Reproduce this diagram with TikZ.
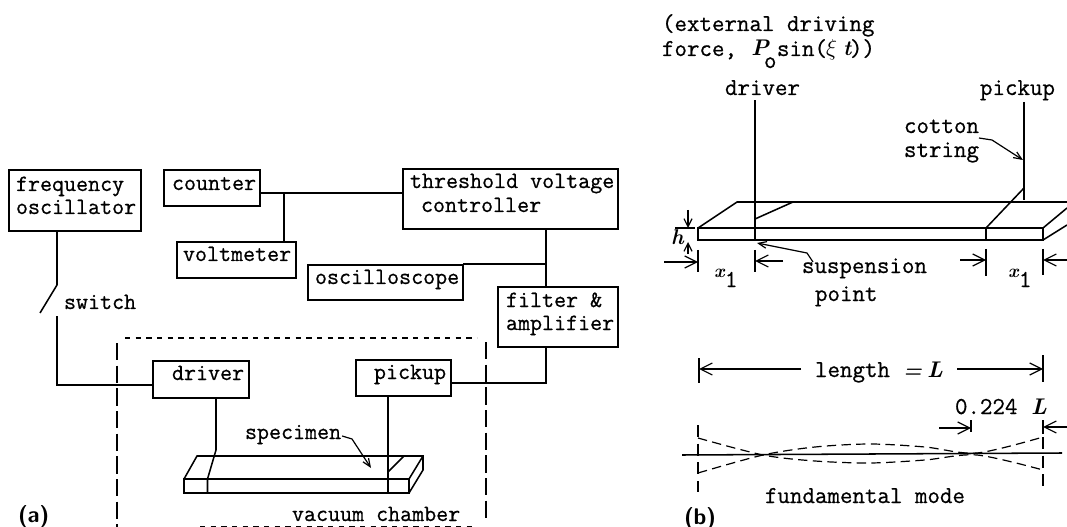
\documentclass[tikz,border=0pt]{standalone}
\usepackage{fontspec}
\usetikzlibrary{arrows.meta}
\newfontfamily\tw{Latin Modern Mono}[FakeBold=0.7]
\tikzset{
  x=0.75pt,y=-0.75pt,
  bx/.style={draw,inner sep=0,outer sep=0},
  tx/.style={anchor=base west,inner sep=0,outer sep=0,font=\tw\fontsize{17.5}{20}\selectfont},
  txr/.style={anchor=base west,inner sep=0,outer sep=0,font=\tw\fontsize{18.2}{20}\selectfont},
  sym/.style={anchor=base west,inner sep=0,outer sep=0,font=\fontsize{16}{20}\selectfont\bfseries\itshape},
  symb/.style={anchor=base west,inner sep=0,outer sep=0,font=\fontsize{17}{20}\selectfont\bfseries\itshape},
  tag/.style={anchor=base west,inner sep=0,outer sep=0,font=\fontsize{17}{20}\selectfont\bfseries\sffamily},
  bar/.style={-{Straight Barb[length=9pt,width=9pt,line width=0.9pt]},line width=0.9pt},
  barsmall/.style={-{Straight Barb[length=6pt,width=6pt,line width=0.9pt]},line width=0.9pt},
  leader/.style={line width=0.9pt,-{Straight Barb[length=6pt,width=5pt,line width=0.9pt]}},
  shortdash/.style={dash pattern=on 4pt off 4pt},
  longdash/.style={dash pattern=on 13pt off 4pt},
  wave/.style={line width=0.9pt,dash pattern=on 7pt off 4pt},
}
\newcommand\bxn[5]{\node[bx,minimum width={(#4-#2)*0.75pt},minimum height={(#5-#3)*0.75pt}] (#1) at ({(#2+#4)/2},{(#3+#5)/2}) {};}
\begin{document}
\begin{tikzpicture}[line width=1.15pt]
\useasboundingbox (0,0) rectangle (1067,527);
% (a) boxes
\bxn{osc}{9}{170}{141}{231}
\bxn{counter}{164}{170}{260}{206}
\bxn{thresh}{403}{169}{618}{229}
\bxn{volt}{177}{242}{296}{278}
\bxn{scope}{308}{265}{463}{300}
\bxn{filter}{498}{287}{618}{347}
\bxn{drv}{153}{361}{249}{398}
\bxn{pck}{356}{360}{451}{396}
% (a) texts
\node[tx] (t1) at (16,191) {frequency};
\node[tx] (t2) at (16,214) {oscillator};
\node[tx] (t3) at (172,190) {counter};
\node[tx] (t4) at (410,188) {threshold voltage};
\node[tx] (t5) at (421,212) {controller};
\node[tx] (t6) at (183,261) {voltmeter};
\node[tx] (t7) at (315,284) {oscilloscope};
\node[tx] (t8) at (64,309) {switch};
\node[tx] (t9) at (506,307) {filter \&};
\node[tx] (t10) at (506,330) {amplifier};
\node[tx] (t11) at (172,380) {driver};
\node[tx] (t12) at (374,379) {pickup};
\node[tx] (t13) at (245,439) {specimen};
\node[tx] (t14) at (292,521) {vacuum chamber};
\node[tag] (ta) at (18,522) {(a)};
% (a) connectors
\coordinate (j1) at (284,193);
\draw (counter.east |- j1) -- (j1) -- (thresh.west |- j1);
\draw (j1) -- (volt.north -| j1);
\coordinate (j2) at (546,264);
\draw (thresh.south -| j2) -- (j2) -- (filter.north -| j2);
\draw (j2) -- (scope.north east |- j2);
\coordinate (s1) at (57,285);
\coordinate (s2) at (40,313);
\coordinate (s3) at (57,316);
\coordinate (s4) at (57,385);
\draw (osc.south -| s1) -- (s1) -- (s2);
\draw (s3) -- (s4) -- (drv.west |- s4);
\coordinate (p1) at (546,383);
\draw (pck.east |- p1) -- (p1) -- (filter.south -| p1);
% chamber
\coordinate (c1) at (125,338); \coordinate (c2) at (477,338);
\coordinate (c3) at (117,343); \coordinate (c4) at (117,527);
\coordinate (c5) at (486,342); \coordinate (c6) at (486,523);
\coordinate (c7) at (200,526); \coordinate (c8) at (477,526);
\draw[shortdash,line width=0.9pt] (c1) -- (c2);
\draw[shortdash,line width=0.6pt] (c7) -- (c8);
\draw[longdash] (c3) -- (c4);
\draw[longdash] (c5) -- (c6);
% specimen
\draw (184,479) rectangle (409,493);
\draw (184,479) -- (197,456) -- (423,456) -- (423,470) -- (409,493);
\draw (409,479) -- (423,456);
\coordinate (d1) at (216,450);
\draw (drv.south -| d1) -- (d1) -- (207.5,479) -- (207.5,493);
\coordinate (d2) at (388,493);
\draw (pck.south -| d2) -- (d2);
\draw (388,472) -- (404,456);
\draw[leader] (t13.base east) ++(1,-3) -- (352,439) -- (371,468);
% (b) texts
\node[txr] (r1) at (662,31) {(external driving};
\node[txr] (r2) at (662,56) {force,};
\node[symb] (r3) at (751,56) {P};
\node[txr] (r4) at (764,68) {o};
\node[txr] (r5) at (777,56) {sin(};
\node[sym] (r6) at (826,56) {$\xi$};
\node[sym] (r7) at (843,56) {t};
\node[txr] (r8) at (850,56) {))};
\node[txr] (r9) at (725,95) {driver};
\node[txr] (r10) at (980,95) {pickup};
\node[txr] (r11) at (904,133) {cotton};
\node[txr] (r12) at (904,157) {string};
\node[txr] (r13) at (802,273) {suspension};
\node[txr] (r14) at (815,301) {point};
\node[txr] (r15) at (815,377) {length};
\node[sym] (r16) at (903,377) {=};
\node[symb] (r17) at (927,377) {L};
\node[txr] (r18) at (955,414) {0.224};
\node[symb] (r19) at (1031,414) {L};
\node[txr] (r20) at (765,503) {fundamental mode};
\node[tag] (tb) at (684,524) {(b)};
% h, x1 labels
\node[sym] (h1) at (671,245) {h};
\node[sym,font=\fontsize{14}{20}\selectfont\bfseries\itshape] (x1) at (714,277) {x};
\node[txr] (x2) at (725,287) {1};
\node[sym,font=\fontsize{14}{20}\selectfont\bfseries\itshape] (x3) at (1008,277) {x};
\node[txr] (x4) at (1019,287) {1};
% bar
\draw (698,228) rectangle (1043,240);
\draw (698,228) -- (737,202) -- (1067,202);
\draw (1043,228) -- (1067,208);
\draw (1043,240) -- (1067,225);
% strings
\coordinate (a1) at (755,240);
\draw (r9.south -| a1) ++(0,5) -- (a1);
\draw (755,219) -- (793,202);
\coordinate (a2) at (1024,200);
\draw (1024,102) -- (a2);
\draw (986,228) -- (1024,188);
\draw (986,228) -- (986,240);
\draw[leader] (r11.base east) ++(0,5) -- (992,140) -- (1023,160);
\draw[leader] (813,262) -- (807,253) -- (757,243);
% h dim
\draw[line width=0.9pt] (675,228) -- (695,228);
\draw[barsmall] (688,210) -- (688,228);
\draw[barsmall] (688,254) -- (688,242);
% x1 dims
\draw[line width=0.9pt] (698,250) -- (698,272);
\draw[line width=0.9pt] (755,250) -- (755,272);
\draw[line width=0.9pt] (986,249) -- (986,276);
\draw[line width=0.9pt] (1043,249) -- (1043,275);
\draw[bar] (664,262) -- (698,262);
\draw[bar] (783,261) -- (755,261);
\draw[bar] (960,260) -- (986,260);
\draw[bar] (1067,260) -- (1043,260);
% length dim
\draw[line width=0.9pt] (699,358) -- (699,383);
\draw[line width=0.9pt] (1043,355) -- (1043,382);
\draw[bar] (801,369) -- (699,369);
\draw[bar] (957,369) -- (1043,369);
% 0.224 dim
\draw[line width=0.9pt] (971,420) -- (971,432);
\draw[line width=0.9pt] (1043,420) -- (1043,434);
\draw[bar] (939,428) -- (971,428);
\draw[bar] (1067,427) -- (1043,427);
% mode
\draw (682,455) -- (1062,453);
\draw[dash pattern=on 9pt off 5pt,line width=0.9pt] (698,425) -- (698,492);
\draw[dash pattern=on 9pt off 5pt,line width=0.9pt] (1043,437) -- (1043,487);
\draw[wave] plot[smooth] coordinates {(698,438) (763,455) (815,461) (870,463) (925,460) (977,455) (1043,470)};
\draw[wave] plot[smooth] coordinates {(698,473) (763,455) (815,447) (870,444) (925,447) (977,453) (1043,437)};
\end{tikzpicture}
\end{document}
